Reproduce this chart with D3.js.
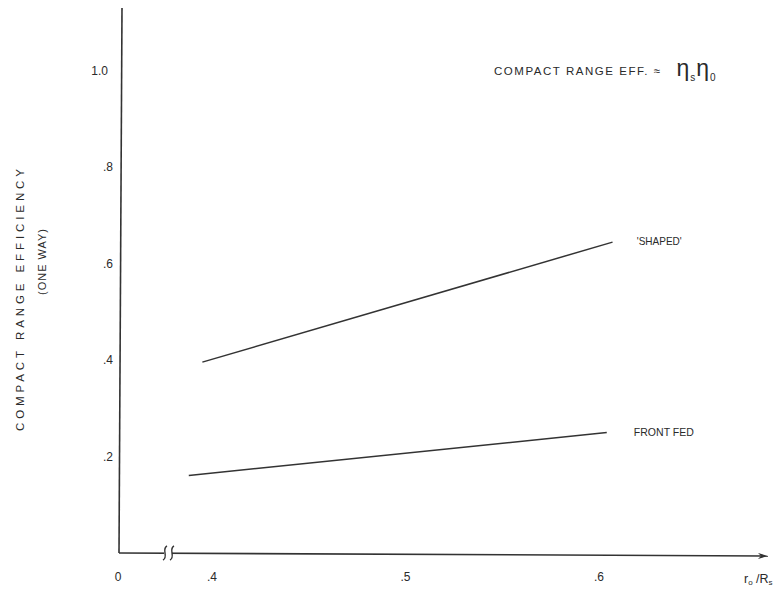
<!DOCTYPE html>
<html>
<head>
<meta charset="utf-8">
<script src="https://cdn.jsdelivr.net/npm/d3@7"></script>
<style>
  html, body { margin: 0; padding: 0; background: #fff; }
  svg { display: block; }
  text { font-family: "Liberation Sans", Arial, Helvetica, sans-serif; fill: #2a2a2a; }
</style>
</head>
<body>
<svg id="chart" width="784" height="596"></svg>
<script>
// ---- data ----
const xTicks = [0.4, 0.5, 0.6];
const xTickLabels = [".4", ".5", ".6"];
const yTicks = [0.2, 0.4, 0.6, 0.8, 1.0];
const yTickLabels = [".2", ".4", ".6", ".8", "1.0"];
const shapedX = [0.395, 0.607];
const shapedY = [0.396, 0.645];
const frontFedX = [0.388, 0.604];
const frontFedY = [0.161, 0.250];
const seriesNames = ["'SHAPED'", "FRONT FED"];

// ---- layout ----
const svg = d3.select("#chart");
const originX = 120, originY = 553;
const x = d3.scaleLinear().domain([0.4, 0.6]).range([212, 599]);
const y = d3.scaleLinear().domain([0, 1]).range([originY, 71]);
const ink = "#333";

// y axis line
svg.append("line").attr("x1", 122).attr("y1", 8).attr("x2", originX - 1).attr("y2", originY)
  .attr("stroke", ink).attr("stroke-width", 1.6);
// x axis line with arrow
svg.append("defs").append("marker").attr("id", "arr")
  .attr("viewBox", "0 0 10 6").attr("refX", 10).attr("refY", 3)
  .attr("markerWidth", 12).attr("markerHeight", 6).attr("markerUnits", "userSpaceOnUse")
  .attr("orient", "auto")
  .append("path").attr("d", "M0,0 L10,3 L0,6 L3,3 Z").attr("fill", ink);
svg.append("line").attr("x1", originX - 1).attr("y1", originY).attr("x2", 768).attr("y2", originY + 3)
  .attr("stroke", ink).attr("stroke-width", 1.6).attr("marker-end", "url(#arr)");
// axis break
svg.append("rect").attr("x", 164).attr("y", originY - 2).attr("width", 8).attr("height", 4).attr("fill", "#fff");
const brk = svg.append("g").attr("fill", "none").attr("stroke", ink).attr("stroke-width", 1.4);
[164, 171].forEach(bx => {
  brk.append("path").attr("d", `M${bx + 3},${originY - 7} C${bx - 3},${originY - 4} ${bx + 5},${originY + 4} ${bx - 1},${originY + 7}`);
});

// x tick labels
svg.append("text").attr("x", 118).attr("y", 581).attr("text-anchor", "middle")
  .attr("font-size", 12).text("0");
svg.selectAll(".xt").data(xTicks).enter().append("text")
  .attr("x", d => x(d)).attr("y", 581).attr("text-anchor", "middle")
  .attr("font-size", 12).text((d, i) => xTickLabels[i]);
// x axis title r0 / Rs
const xt = svg.append("text").attr("x", 744).attr("y", 583).attr("font-size", 12.5);
xt.append("tspan").text("r");
xt.append("tspan").attr("font-size", 8).attr("dy", 2).text("o");
xt.append("tspan").attr("dy", -2).text(" /R");
xt.append("tspan").attr("font-size", 8).attr("dy", 2).text("s");

// y tick labels
svg.selectAll(".yt").data(yTicks).enter().append("text")
  .attr("x", d => d === 1 ? 108 : 113).attr("y", d => y(d) + 4).attr("text-anchor", "end")
  .attr("font-size", 12).text((d, i) => yTickLabels[i]);

// y axis title
svg.append("text").attr("transform", "translate(24,300) rotate(-90)")
  .attr("text-anchor", "middle").attr("font-size", 11.5)
  .attr("textLength", 262).attr("lengthAdjust", "spacing")
  .text("COMPACT RANGE EFFICIENCY");
svg.append("text").attr("transform", "translate(46,262) rotate(-90)")
  .attr("text-anchor", "middle").attr("font-size", 11)
  .attr("textLength", 66).attr("lengthAdjust", "spacing")
  .text("(ONE WAY)");

// equation
const eq = svg.append("text").attr("x", 494).attr("y", 75).attr("font-size", 11.5);
eq.append("tspan").attr("textLength", 166).attr("lengthAdjust", "spacing").text("COMPACT RANGE EFF. ≈");
eq.append("tspan").attr("font-size", 23).attr("dx", 15).attr("dy", 1).text("η");
eq.append("tspan").attr("font-size", 10).attr("dx", 1).attr("dy", 5).text("s");
eq.append("tspan").attr("font-size", 23).attr("dx", 1).attr("dy", -5).text("η");
eq.append("tspan").attr("font-size", 10).attr("dx", 1).attr("dy", 5).text("0");

// series lines
const line = d3.line().x(d => x(d[0])).y(d => y(d[1]));
const series = [d3.zip(shapedX, shapedY), d3.zip(frontFedX, frontFedY)];
svg.selectAll(".series").data(series).enter().append("path")
  .attr("d", line).attr("fill", "none").attr("stroke", ink).attr("stroke-width", 1.5);

// series labels
const labelPos = [[0.6195, 0.647], [0.618, 0.252]];
svg.selectAll(".sl").data(seriesNames).enter().append("text")
  .attr("x", (d, i) => x(labelPos[i][0])).attr("y", (d, i) => y(labelPos[i][1]) + 4)
  .attr("font-size", 11).attr("textLength", (d, i) => i === 0 ? 45 : 60)
  .attr("lengthAdjust", "spacingAndGlyphs").text(d => d);
</script>
</body>
</html>
